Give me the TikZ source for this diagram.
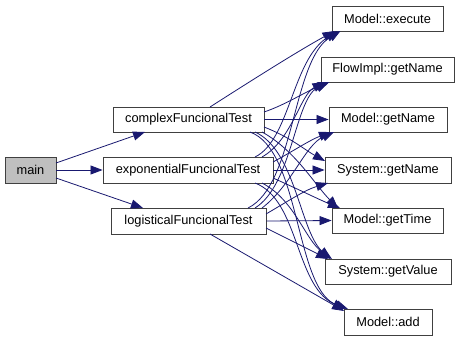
\documentclass[tikz,border=0pt]{standalone}
\usepackage{fontspec}
\setmainfont{Liberation Sans}
\usetikzlibrary{arrows.meta}
\definecolor{edgeblue}{HTML}{191970}
\definecolor{boxline}{HTML}{404040}
\definecolor{rootfill}{HTML}{BFBFBF}
\tikzset{
  fnbox/.style={draw=boxline, line width=0.9pt, fill=white, rectangle,
    inner sep=0pt, font=\fontsize{12.8}{14}\selectfont},
  rootbox/.style={fnbox, fill=rootfill},
  call/.style={draw=edgeblue, line width=0.8pt,
    -{Triangle[length=12pt,width=9pt]}, fill=none},
}
\newcommand{\at}[3]{([shift={(#2,#3)}]#1.center)}
\begin{document}
\begin{tikzpicture}[x=1pt,y=-1pt]
\useasboundingbox (0,0) rectangle (460,341);
\fill[white] (0,0) rectangle (460,341);

% callers
\node[rootbox, minimum width=51pt, minimum height=26pt] (main) at (30.5,170) {main};
\node[fnbox, minimum width=151pt, minimum height=25pt] (cft) at (188.5,119.5) {complexFuncionalTest};
\node[fnbox, minimum width=170pt, minimum height=26pt] (efn) at (188,170) {exponentialFuncionalTest};
\node[fnbox, minimum width=155pt, minimum height=26pt] (lfn) at (188.5,221) {logisticalFuncionalTest};

% callees
\node[fnbox, minimum width=111pt, minimum height=25pt] (exe) at (387.5,18.5) {Model::execute};
\node[fnbox, minimum width=133pt, minimum height=25pt] (flw) at (387.5,69.5) {FlowImpl::getName};
\node[fnbox, minimum width=118pt, minimum height=25pt] (mgn) at (388,119.5) {Model::getName};
\node[fnbox, minimum width=126pt, minimum height=26pt] (sgn) at (388,170) {System::getName};
\node[fnbox, minimum width=111pt, minimum height=25pt] (tim) at (387.5,220.5) {Model::getTime};
\node[fnbox, minimum width=126pt, minimum height=25pt] (val) at (388,271.5) {System::getValue};
\node[fnbox, minimum width=88pt, minimum height=26pt] (add) at (388,322) {Model::add};

% main -> tests
\draw[call] \at{main}{25.5}{-7} -- \at{cft}{-43.5}{12.5};
\draw[call] (main.east) -- (efn.west);
\draw[call] \at{main}{25.5}{8} -- \at{lfn}{-45.5}{-13};

% complexFuncionalTest
\draw[call] \at{cft}{21.5}{-12.5} .. controls (260,75) and (300,50) .. \at{exe}{-53}{12.5};
\draw[call] \at{cft}{75.5}{-7.5} .. controls (285,105) and (305,92) .. \at{flw}{-58}{12.5};
\draw[call] (cft.east) -- (mgn.west);
\draw[call] \at{cft}{75.5}{7.5} .. controls (290,137) and (305,150) .. \at{sgn}{-63}{-9};
\draw[call] \at{cft}{73.5}{12.5} .. controls (295,150) and (315,185) .. \at{tim}{-49.5}{-12.5};
\draw[call] \at{cft}{66.5}{12.5} .. controls (295,150) and (300,230) .. \at{val}{-58}{-12.5};
\draw[call] \at{cft}{61.5}{12.5} .. controls (300,150) and (295,285) .. \at{add}{-43}{-13};

% exponentialFuncionalTest
\draw[call] \at{efn}{67}{-13} .. controls (290,140) and (292,60) .. \at{exe}{-50}{12.5};
\draw[call] \at{efn}{74}{-13} .. controls (292,140) and (300,95) .. \at{flw}{-63}{12.5};
\draw[call] \at{efn}{85}{-8} .. controls (295,150) and (310,140) .. \at{mgn}{-57}{12.5};
\draw[call] (efn.east) -- (sgn.west);
\draw[call] \at{efn}{85}{8} .. controls (300,190) and (320,200) .. \at{tim}{-47.5}{-12.5};
\draw[call] \at{efn}{74}{13} .. controls (295,200) and (305,240) .. \at{val}{-56}{-12.5};
\draw[call] \at{efn}{67}{13} .. controls (300,200) and (295,290) .. \at{add}{-40}{-13};

% logisticalFuncionalTest
\draw[call] \at{lfn}{59.5}{-13} .. controls (295,185) and (292,60) .. \at{exe}{-47}{12.5};
\draw[call] \at{lfn}{66.5}{-13} .. controls (292,185) and (295,100) .. \at{flw}{-60}{12.5};
\draw[call] \at{lfn}{73.5}{-13} .. controls (292,185) and (305,145) .. \at{mgn}{-54}{12.5};
\draw[call] \at{lfn}{77.5}{-7} .. controls (290,200) and (305,190) .. \at{sgn}{-60}{13};
\draw[call] (lfn.east) -- (tim.west);
\draw[call] \at{lfn}{77.5}{7} -- \at{val}{-60}{-12.5};
\draw[call] \at{lfn}{21.5}{13} -- \at{add}{-44}{-11};
\end{tikzpicture}
\end{document}
